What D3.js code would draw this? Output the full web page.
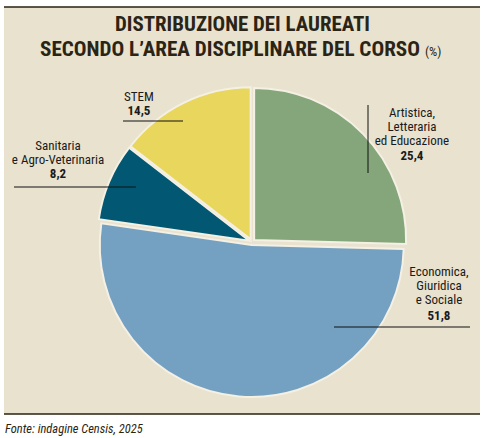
<!DOCTYPE html>
<html><head><meta charset="utf-8">
<script src="https://cdn.jsdelivr.net/npm/d3@7"></script>
<style>body{margin:0;background:#fff}text{font-family:"Liberation Sans Narrow","Arial Narrow","Roboto Condensed",sans-serif}</style>
</head><body><svg id="c" width="492" height="438"></svg>
<script>
const categories=["Artistica, Letteraria ed Educazione","Economica, Giuridica e Sociale","Sanitaria e Agro-Veterinaria","STEM"];
const values=[25.4,51.8,8.2,14.5];
const colors=["#84a67a","#74a1c2","#025873","#e9d65c"];
const labelLines=[["Artistica,","Letteraria","ed Educazione"],["Economica,","Giuridica","e Sociale"],["Sanitaria","e Agro-Veterinaria"],["STEM"]];
const valueLabels=["25,4","51,8","8,2","14,5"];

const svg=d3.select("#c");
svg.append("rect").attr("x",4).attr("y",7).attr("width",476).attr("height",407).attr("fill","#e8e2cf");
svg.append("line").attr("x1",4).attr("x2",480).attr("y1",7).attr("y2",7).attr("stroke","#2a2010").attr("stroke-width",1.5);
svg.append("line").attr("x1",4).attr("x2",480).attr("y1",414).attr("y2",414).attr("stroke","#2a2010").attr("stroke-width",1.5);

const t=svg.append("g").attr("fill","#2b2415").attr("font-weight","bold");
t.append("text").attr("x",115).attr("y",31).attr("font-size",21).attr("textLength",255).attr("lengthAdjust","spacingAndGlyphs").text("DISTRIBUZIONE DEI LAUREATI");
t.append("text").attr("x",40).attr("y",56).attr("font-size",21).attr("textLength",380).attr("lengthAdjust","spacingAndGlyphs").text("SECONDO L\u2019AREA DISCIPLINARE DEL CORSO");
svg.append("text").attr("x",425).attr("y",56).attr("font-size",13).attr("fill","#2b2415").text("(%)");

const cx=252,cy=242,r=152;
const pie=d3.pie().sort(null).value(d=>d)(values);
const arc=d3.arc().innerRadius(0).outerRadius(r);
const g=svg.append("g").attr("transform",`translate(${cx},${cy})`);
g.selectAll("path").data(pie).join("path")
 .attr("d",arc).attr("fill",(d,i)=>colors[i]).attr("stroke","#f4f0e4").attr("stroke-width",2)
 .attr("transform",d=>{const a=(d.startAngle+d.endAngle)/2,o=3;return `translate(${o*Math.sin(a)},${-o*Math.cos(a)})`;});

const lab=[{x:412,y:[117,131,145],v:160},{x:439,y:[276,290,304],v:320},{x:58,y:[150,164],v:178},{x:139,y:[101],v:115}];
const L=svg.append("g").attr("fill","#1a1a1a").attr("font-size",13).attr("text-anchor","middle");
lab.forEach((p,i)=>{
 labelLines[i].forEach((s,j)=>L.append("text").attr("x",p.x).attr("y",p.y[j]).text(s));
 L.append("text").attr("x",p.x).attr("y",p.v).attr("font-weight","bold").text(valueLabels[i]);
});
const lines=[[368,105,368,173],[334,327,470,327],[14,187,136,187],[123,121,183,121]];
svg.selectAll("line.l").data(lines).join("line").attr("class","l")
 .attr("x1",d=>d[0]).attr("y1",d=>d[1]).attr("x2",d=>d[2]).attr("y2",d=>d[3]).attr("stroke","#111").attr("stroke-width",1);
svg.append("text").attr("x",5).attr("y",433).attr("font-size",12.5).attr("font-style","italic").attr("fill","#2b2415").text("Fonte: indagine Censis, 2025");
</script></body></html>
